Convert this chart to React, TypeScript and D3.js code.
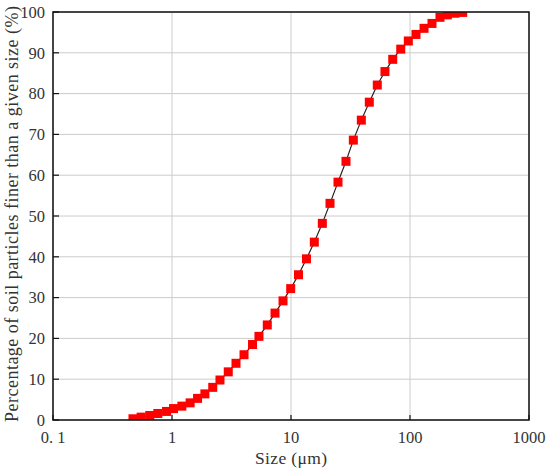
import * as d3 from "d3";
import { useEffect, useRef } from "react";

// particle size (µm) and cumulative percent finer
const sizes = [
  0.47, 0.55, 0.65, 0.76, 0.9, 1.03, 1.21, 1.42, 1.64, 1.89, 2.2, 2.53, 2.97,
  3.45, 4.03, 4.75, 5.38, 6.32, 7.34, 8.57, 9.94, 11.56, 13.49, 15.7, 18.33,
  21.27, 24.83, 28.98, 33.4, 38.99, 45.5, 53.1, 61.6, 71.6, 83.6, 96.8, 112.3,
  131.2, 153, 178.6, 205.8, 238.8, 277.3,
];
const percentFiner = [
  0.3, 0.7, 1.1, 1.6, 2.1, 2.8, 3.4, 4.2, 5.3, 6.4, 8.0, 9.8, 11.8, 13.9, 16.0,
  18.5, 20.5, 23.3, 26.2, 29.2, 32.2, 35.6, 39.5, 43.6, 48.2, 53.1, 58.3, 63.4,
  68.6, 73.5, 77.9, 82.1, 85.4, 88.4, 90.9, 92.9, 94.5, 96.0, 97.2, 98.7, 99.3,
  99.7, 99.9,
];
const xTicks = [0.1, 1, 10, 100, 1000];
const xTickLabels = ["0. 1", "1", "10", "100", "1000"];
const yTicks = [0, 10, 20, 30, 40, 50, 60, 70, 80, 90, 100];

const W = 550;
const H = 473;
const margin = { top: 12, right: 21, bottom: 53, left: 53 };

export default function App() {
  const ref = useRef<SVGSVGElement>(null);

  useEffect(() => {
    const svg = d3.select(ref.current);
    svg.selectAll("*").remove();

    const iw = W - margin.left - margin.right;
    const ih = H - margin.top - margin.bottom;

    const x = d3.scaleLog().domain([0.1, 1000]).range([0, iw]);
    const y = d3.scaleLinear().domain([0, 100]).range([ih, 0]);

    const font = "'Liberation Serif', 'Times New Roman', serif";
    const textCol = "#333";
    const g = svg
      .append("g")
      .attr("transform", `translate(${margin.left},${margin.top})`);

    g.append("clipPath")
      .attr("id", "plotclip")
      .append("rect")
      .attr("width", iw)
      .attr("height", ih);

    // сетка
    g.selectAll(".vgrid")
      .data(xTicks)
      .enter()
      .append("line")
      .attr("x1", (d) => x(d))
      .attr("x2", (d) => x(d))
      .attr("y1", 0)
      .attr("y2", ih)
      .attr("stroke", "#cccccc")
      .attr("stroke-width", 1);
    g.selectAll(".hgrid")
      .data(yTicks)
      .enter()
      .append("line")
      .attr("x1", 0)
      .attr("x2", iw)
      .attr("y1", (d) => y(d))
      .attr("y2", (d) => y(d))
      .attr("stroke", "#cccccc")
      .attr("stroke-width", 1);

    const pts = sizes.map((s, i) => [s, percentFiner[i]] as [number, number]);

    const line = d3
      .line<[number, number]>()
      .x((d) => x(d[0]))
      .y((d) => y(d[1]));

    const plot = g.append("g").attr("clip-path", "url(#plotclip)");
    plot
      .append("path")
      .datum(pts)
      .attr("d", line)
      .attr("fill", "none")
      .attr("stroke", "#222")
      .attr("stroke-width", 1.2);

    const ms = 9;
    plot
      .selectAll(".pt")
      .data(pts)
      .enter()
      .append("rect")
      .attr("x", (d) => x(d[0]) - ms / 2)
      .attr("y", (d) => y(d[1]) - ms / 2)
      .attr("width", ms)
      .attr("height", ms)
      .attr("fill", "#ff0000");

    // рамка
    g.append("rect")
      .attr("width", iw)
      .attr("height", ih)
      .attr("fill", "none")
      .attr("stroke", "#111")
      .attr("stroke-width", 1.5);

    // ticks inward
    g.selectAll(".xt")
      .data(xTicks)
      .enter()
      .append("line")
      .attr("x1", (d) => x(d))
      .attr("x2", (d) => x(d))
      .attr("y1", ih)
      .attr("y2", ih - 5)
      .attr("stroke", "#111")
      .attr("stroke-width", 1.2);
    g.selectAll(".yt")
      .data(yTicks)
      .enter()
      .append("line")
      .attr("x1", 0)
      .attr("x2", 6)
      .attr("y1", (d) => y(d))
      .attr("y2", (d) => y(d))
      .attr("stroke", "#111")
      .attr("stroke-width", 1.2);

    g.selectAll(".xl")
      .data(xTicks)
      .enter()
      .append("text")
      .attr("x", (d) => x(d))
      .attr("y", ih + 23)
      .attr("text-anchor", "middle")
      .style("font-family", font)
      .style("font-size", "16.5px")
      .attr("fill", textCol)
      .text((d, i) => xTickLabels[i]);

    g.selectAll(".yl")
      .data(yTicks)
      .enter()
      .append("text")
      .attr("x", -8)
      .attr("y", (d) => y(d))
      .attr("dy", "0.35em")
      .attr("text-anchor", "end")
      .style("font-family", font)
      .style("font-size", "16.5px")
      .attr("fill", textCol)
      .text((d) => String(d));

    svg
      .append("text")
      .attr("x", 291)
      .attr("y", 464)
      .attr("text-anchor", "middle")
      .attr("textLength", 72)
      .style("font-family", font)
      .style("font-size", "17.5px")
      .attr("fill", textCol)
      .text("Size (μm)");

    svg
      .append("text")
      .attr("transform", `translate(18,214) rotate(-90)`)
      .attr("text-anchor", "middle")
      .attr("textLength", 416)
      .style("font-family", font)
      .style("font-size", "18px")
      .attr("fill", textCol)
      .text("Percentage of soil particles finer than a given size (%)");
  }, []);

  return (
    <svg
      ref={ref}
      width={W}
      height={H}
      style={{ position: "absolute", left: 0, top: 0, background: "#fff" }}
    />
  );
}
